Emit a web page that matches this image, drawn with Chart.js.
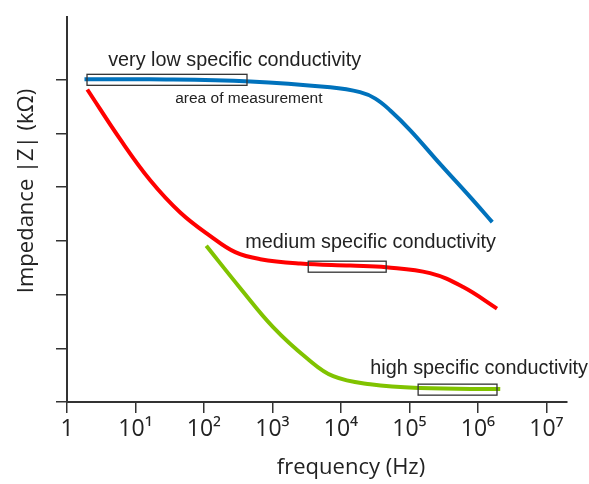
<!DOCTYPE html>
<html>
<head>
<meta charset="utf-8">
<script src="https://cdn.jsdelivr.net/npm/chart.js@4.4.1/dist/chart.umd.min.js"></script>
<style>
  body { margin: 0; background: #fff; }
  #wrap { width: 589px; height: 484px; }
</style>
</head>
<body>
<div id="wrap"><canvas id="myChart" width="589" height="484"></canvas></div>
<script>
// x axis ticks (frequency, Hz)
const freqTicks = [1, 10, 100, 1e3, 1e4, 1e5, 1e6, 1e7];
const freqTickLabels = ['1', '10¹', '10²', '10³', '10⁴', '10⁵', '10⁶', '10⁷'];
// y axis ticks (no labels in the original)
const zTicks = [0, 1, 2, 3, 4, 5, 6];

// very low specific conductivity (blue)
const lowFreq = [1.8, 16, 474, 7000, 19000, 31800, 52500, 1.03e5, 2.82e5, 7.8e5, 1.62e6];
const lowZ = [6.01, 6.01, 5.97, 5.86, 5.77, 5.65, 5.43, 5.06, 4.43, 3.81, 3.35];

// medium specific conductivity (red)
const medFreq = [1.98, 6.0, 16.4, 45, 124, 286, 664, 2550, 13700, 45800, 2e5, 6.1e5, 1.9e6];
const medZ = [5.82, 4.89, 4.13, 3.53, 3.09, 2.79, 2.66, 2.58, 2.54, 2.51, 2.40, 2.14, 1.74];

// high specific conductivity (green)
const highFreq = [108, 339, 1030, 3220, 7720, 26800, 1.44e5, 2.12e6];
const highZ = [2.91, 2.12, 1.39, 0.81, 0.48, 0.33, 0.26, 0.24];

// "area of measurement" boxes
const boxFrom = [1.96, 3330, 1.34e5];
const boxTo = [425, 45800, 1.9e6];
const boxZ = [6.0, 2.52, 0.23];

// annotation texts
const noteTexts = ['very low specific conductivity', 'area of measurement', 'medium specific conductivity', 'high specific conductivity'];
const noteFreq = [4.0, 38, 401, 26800];
const noteZ = [6.36, 5.65, 2.97, 0.63];

function toPoints(xs, ys) {
  return xs.map((x, i) => ({ x: x, y: ys[i] }));
}

const axisColor = '#333';

// draws boxes, notes and axis titles
const notesPlugin = {
  id: 'notes',
  afterDatasetsDraw(chart) {
    const c = chart.ctx;
    const xs = chart.scales.x;
    const ys = chart.scales.y;
    c.save();
    c.strokeStyle = '#333';
    c.lineWidth = 1.3;
    boxFrom.forEach((f, i) => {
      const x1 = xs.getPixelForValue(f);
      const x2 = xs.getPixelForValue(boxTo[i]);
      const yc = ys.getPixelForValue(boxZ[i]);
      c.strokeRect(x1, yc - 5.5, x2 - x1, 11);
    });

    c.fillStyle = '#222';
    c.textBaseline = 'middle';
    c.textAlign = 'left';
    noteTexts.forEach((t, i) => {
      c.font = (i === 1 ? '15.5px' : '19.8px') + ' "Liberation Sans", Arial, sans-serif';
      c.fillText(t, xs.getPixelForValue(noteFreq[i]), ys.getPixelForValue(noteZ[i]));
    });

    // axis titles
    c.font = '22px "Open Sans", sans-serif';
    c.textAlign = 'center';
    c.fillText('frequency (Hz)', 351, 468);
    c.translate(27, 191);
    c.rotate(-Math.PI / 2);
    c.fillText('Impedance |Z| (kΩ)', 0, 0);
    c.restore();
  }
};

const ctx = document.getElementById('myChart').getContext('2d');

const lineStyle = {
  borderWidth: 4,
  pointRadius: 0,
  fill: false,
  tension: 0.4
};

const myChart = new Chart(ctx, {
  type: 'line',
  data: {
    datasets: [
      Object.assign({ label: 'very low', data: toPoints(lowFreq, lowZ), borderColor: 'rgb(0,114,188)' }, lineStyle),
      Object.assign({ label: 'medium', data: toPoints(medFreq, medZ), borderColor: 'rgb(255,0,0)' }, lineStyle),
      Object.assign({ label: 'high', data: toPoints(highFreq, highZ), borderColor: 'rgb(128,195,0)' }, lineStyle)
    ]
  },
  options: {
    responsive: false,
    animation: false,
    layout: { padding: { left: 0, top: 17, right: 22, bottom: 0 } },
    plugins: {
      legend: { display: false },
      tooltip: { enabled: false }
    },
    scales: {
      x: {
        type: 'logarithmic',
        min: 1,
        max: 2e7,
        afterBuildTicks: scale => {
          scale.ticks = freqTicks.map(v => ({ value: v }));
        },
        afterFit: scale => { scale.height = 82; },
        border: { display: true, color: axisColor, width: 2 },
        grid: { drawOnChartArea: false, drawTicks: true, tickLength: 11, color: axisColor, lineWidth: 1.5 },
        ticks: {
          autoSkip: false,
          maxRotation: 0,
          padding: 3,
          color: '#222',
          font: { family: '"Open Sans", sans-serif', size: 23 },
          callback: value => {
            const i = freqTicks.indexOf(value);
            return i >= 0 ? freqTickLabels[i] : '';
          }
        }
      },
      y: {
        type: 'linear',
        min: 0,
        max: 7.17,
        afterBuildTicks: scale => {
          scale.ticks = zTicks.map(v => ({ value: v }));
        },
        afterFit: scale => { scale.width = 67; },
        border: { display: true, color: axisColor, width: 2 },
        grid: { drawOnChartArea: false, drawTicks: true, tickLength: 11, color: axisColor, lineWidth: 1.5 },
        ticks: { display: false }
      }
    }
  },
  plugins: [notesPlugin]
});
</script>
</body>
</html>
